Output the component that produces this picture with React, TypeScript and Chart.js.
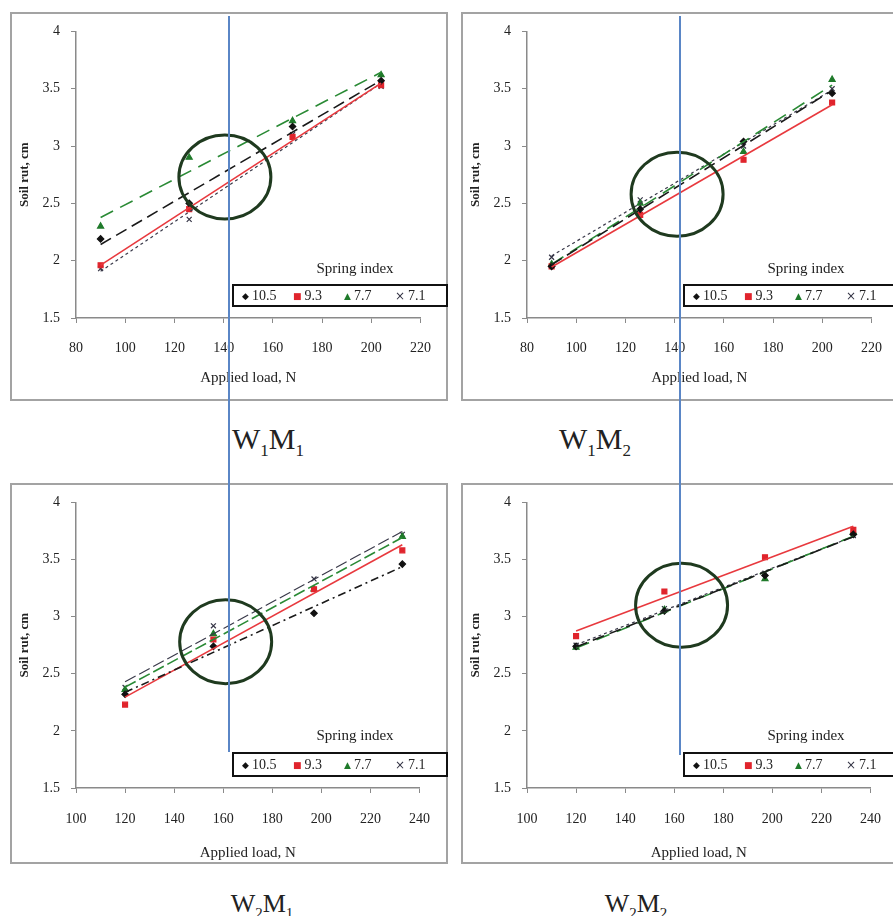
import React, { useEffect, useRef } from "react";
import { Chart, registerables } from "chart.js";
Chart.register(...registerables);

// ---------------- data ----------------
const seriesLabels = ["10.5", "9.3", "7.7", "7.1"];
const topLoads = [90, 126, 168, 204];
const bottomLoads = [120, 156, 197, 233];

const topXTicks = [80, 100, 120, 140, 160, 180, 200, 220];
const bottomXTicks = [100, 120, 140, 160, 180, 200, 220, 240];
const yTicks = [1.5, 2, 2.5, 3, 3.5, 4];

// W1M1
const w1m1_s105 = [2.19, 2.5, 3.17, 3.57];
const w1m1_s93 = [1.96, 2.45, 3.08, 3.53];
const w1m1_s77 = [2.3, 2.9, 3.22, 3.62];
const w1m1_s71 = [1.93, 2.36, 3.1, 3.52];
// W1M2
const w1m2_s105 = [1.95, 2.45, 3.04, 3.46];
const w1m2_s93 = [1.95, 2.4, 2.88, 3.38];
const w1m2_s77 = [1.97, 2.5, 2.95, 3.58];
const w1m2_s71 = [2.03, 2.53, 3.0, 3.5];
// W2M1
const w2m1_s105 = [2.32, 2.74, 3.03, 3.46];
const w2m1_s93 = [2.23, 2.8, 3.24, 3.58];
const w2m1_s77 = [2.36, 2.85, 3.24, 3.7];
const w2m1_s71 = [2.38, 2.92, 3.33, 3.72];
// W2M2
const w2m2_s105 = [2.74, 3.05, 3.36, 3.72];
const w2m2_s93 = [2.83, 3.22, 3.52, 3.76];
const w2m2_s77 = [2.73, 3.06, 3.33, 3.74];
const w2m2_s71 = [2.75, 3.07, 3.38, 3.71];

// highlighted region (data coordinates) per panel
const circleW1M1 = [140.5, 2.73];
const circleW1M2 = [141, 2.58];
const circleW2M1 = [161, 2.78];
const circleW2M2 = [163, 3.1];

// ---------------- styles ----------------
const FONT = "'Liberation Serif', 'Times New Roman', serif";
const markerColors = ["#111111", "#e0242c", "#1f7a2a", "#333344"];
const markerStyles = ["rectRot", "rect", "triangle", "crossRot"];
const markerChars = ["\u25C6", "\u25A0", "\u25B2", "\u00D7"];
const lineColors = ["#1a1a1a", "#e8393e", "#2a8a35", "#3a3a4a"];
const lineDashes: number[][] = [[12, 6], [], [14, 8], [3, 3]];

function fitLine(xs: number[], ys: number[]) {
  const n = xs.length;
  const mx = xs.reduce((a, b) => a + b, 0) / n;
  const my = ys.reduce((a, b) => a + b, 0) / n;
  let sxy = 0, sxx = 0;
  for (let i = 0; i < n; i++) {
    sxy += (xs[i] - mx) * (ys[i] - my);
    sxx += (xs[i] - mx) * (xs[i] - mx);
  }
  const b = sxy / sxx;
  const a = my - b * mx;
  return [
    { x: xs[0], y: a + b * xs[0] },
    { x: xs[n - 1], y: a + b * xs[n - 1] },
  ];
}

const circlePlugin = {
  id: "circleMark",
  afterDatasetsDraw(chart: any, _args: any, opts: any) {
    const ctx = chart.ctx;
    const px = chart.scales.x.getPixelForValue(opts.cx);
    const py = chart.scales.y.getPixelForValue(opts.cy);
    ctx.save();
    ctx.beginPath();
    ctx.ellipse(px, py, opts.rx, opts.ry, 0, 0, Math.PI * 2);
    ctx.lineWidth = 3;
    ctx.strokeStyle = "#1f3a1f";
    ctx.stroke();
    ctx.restore();
  },
};

type PanelProps = {
  left: number;
  top: number;
  width: number;
  height: number;
  loads: number[];
  series: number[][];
  xTicks: number[];
  circle: number[];
  padTop: number;
  xAxisH: number;
  tickPad: number;
  titlePadBottom: number;
  dashOverride?: number[][];
  legendTop: number;
  legendH: number;
  springTop: number;
};

function Panel(p: PanelProps) {
  const ref = useRef<HTMLCanvasElement>(null);
  useEffect(() => {
    if (!ref.current) return;
    const datasets: any[] = [];
    p.series.forEach((ys, i) => {
      const dash = p.dashOverride && p.dashOverride[i] ? p.dashOverride[i] : lineDashes[i];
      datasets.push({
        label: seriesLabels[i] + " trend",
        data: fitLine(p.loads, ys),
        showLine: true,
        borderColor: lineColors[i],
        borderWidth: i === 3 ? 1.2 : 1.6,
        borderDash: dash,
        pointRadius: 0,
        fill: false,
      });
    });
    p.series.forEach((ys, i) => {
      datasets.push({
        label: seriesLabels[i],
        data: p.loads.map((x, j) => ({ x, y: ys[j] })),
        showLine: false,
        pointStyle: markerStyles[i],
        pointRadius: i === 0 ? 3.2 : 3.5,
        backgroundColor: markerColors[i],
        borderColor: markerColors[i],
        borderWidth: 1.2,
      });
    });
    const axisColor = "#8a8a8a";
    const chart = new Chart(ref.current, {
      type: "scatter",
      data: { datasets },
      plugins: [circlePlugin],
      options: {
        animation: false,
        responsive: false,
        maintainAspectRatio: false,
        devicePixelRatio: 1,
        layout: { padding: { left: 0, right: 18, top: p.padTop, bottom: 0 } },
        plugins: {
          legend: { display: false },
          tooltip: { enabled: false },
          circleMark: { cx: p.circle[0], cy: p.circle[1], rx: 46, ry: 42 },
        } as any,
        scales: {
          x: {
            type: "linear",
            min: p.xTicks[0],
            max: p.xTicks[p.xTicks.length - 1],
            afterBuildTicks: (axis: any) => {
              axis.ticks = p.xTicks.map((v) => ({ value: v }));
            },
            afterFit: (s: any) => {
              s.height = p.xAxisH;
            },
            grid: {
              display: true,
              drawOnChartArea: false,
              drawTicks: true,
              tickLength: 5,
              color: axisColor,
              tickColor: axisColor,
            },
            border: { display: true, color: axisColor, width: 1.5 },
            ticks: {
              padding: p.tickPad,
              autoSkip: false,
              maxRotation: 0,
              color: "#222",
              font: { family: FONT, size: 14 },
              callback: (v: any) => String(v),
            },
            title: {
              display: true,
              text: "Applied load, N",
              color: "#222",
              font: { family: FONT, size: 15 },
              padding: { top: 0, bottom: p.titlePadBottom },
            },
          },
          y: {
            type: "linear",
            min: yTicks[0],
            max: yTicks[yTicks.length - 1],
            afterBuildTicks: (axis: any) => {
              axis.ticks = yTicks.map((v) => ({ value: v }));
            },
            afterFit: (s: any) => {
              s.width = 66;
            },
            grid: {
              display: true,
              drawOnChartArea: false,
              drawTicks: true,
              tickLength: 5,
              color: axisColor,
              tickColor: axisColor,
            },
            border: { display: true, color: axisColor, width: 1.5 },
            ticks: {
              padding: 11,
              color: "#222",
              font: { family: FONT, size: 14 },
              callback: (v: any) => String(v),
            },
            title: {
              display: true,
              text: "Soil rut, cm",
              color: "#222",
              font: { family: FONT, size: 13, weight: "bold" },
              padding: { top: 7, bottom: 0 },
            },
          },
        },
      } as any,
    });
    return () => chart.destroy();
  }, []);

  return (
    <div
      style={{
        position: "absolute",
        left: p.left,
        top: p.top,
        width: p.width,
        height: p.height,
        overflow: "hidden",
        background: "#fff",
      }}
    >
      <canvas
        ref={ref}
        width={p.width}
        height={p.height}
        style={{ position: "absolute", left: 0, top: 0, display: "block" }}
      />
      <div
        style={{
          position: "absolute",
          left: 0,
          top: 0,
          width: p.width,
          height: p.height,
          border: "2px solid #a3a3a3",
          boxSizing: "border-box",
          pointerEvents: "none",
        }}
      />
      <div
        style={{
          position: "absolute",
          left: 285,
          top: p.springTop,
          width: 120,
          textAlign: "center",
          fontSize: 15,
          lineHeight: "18px",
          color: "#222",
          whiteSpace: "nowrap",
        }}
      >
        Spring index
      </div>
      <div
        style={{
          position: "absolute",
          left: 222,
          top: p.legendTop,
          width: 216,
          height: p.legendH,
          border: "2px solid #111",
          boxSizing: "border-box",
          background: "#fff",
          display: "flex",
          alignItems: "center",
          paddingLeft: 8,
          fontSize: 14,
          color: "#222",
          whiteSpace: "nowrap",
        }}
      >
        {seriesLabels.map((l, i) => (
          <span key={l} style={{ width: 51, display: "inline-flex", alignItems: "center" }}>
            <span
              style={{
                color: markerColors[i],
                fontSize: i === 3 ? 12 : 9,
                marginRight: 3,
                fontFamily: "DejaVu Sans",
              }}
            >
              {markerChars[i]}
            </span>
            {l}
          </span>
        ))}
      </div>
    </div>
  );
}

function PanelTitle({ cx, cy, fs, w, m }: { cx: number; cy: number; fs: number; w: string; m: string }) {
  const lh = fs + 4;
  return (
    <div
      style={{
        position: "absolute",
        left: cx - 70,
        top: cy - 2 - 0.56 * fs,
        width: 140,
        textAlign: "center",
        fontSize: fs,
        lineHeight: lh + "px",
        color: "#222",
        whiteSpace: "nowrap",
      }}
    >
      W<sub style={{ fontSize: Math.round(fs * 0.56), lineHeight: 0 }}>{w}</sub>M
      <sub style={{ fontSize: Math.round(fs * 0.56), lineHeight: 0 }}>{m}</sub>
    </div>
  );
}

export default function App() {
  return (
    <div
      style={{
        position: "absolute",
        left: 0,
        top: 0,
        width: 893,
        height: 916,
        overflow: "hidden",
        background: "#fff",
        fontFamily: FONT,
      }}
    >
      <Panel
        left={10}
        top={12}
        width={438}
        height={389}
        loads={topLoads}
        series={[w1m1_s105, w1m1_s93, w1m1_s77, w1m1_s71]}
        xTicks={topXTicks}
        circle={circleW1M1}
        padTop={13}
        xAxisH={83}
        tickPad={17}
        titlePadBottom={14}
        legendTop={272}
        legendH={23}
        springTop={247}
      />
      <Panel
        left={461}
        top={12}
        width={438}
        height={389}
        loads={topLoads}
        series={[w1m2_s105, w1m2_s93, w1m2_s77, w1m2_s71]}
        xTicks={topXTicks}
        circle={circleW1M2}
        padTop={13}
        xAxisH={83}
        tickPad={17}
        titlePadBottom={14}
        legendTop={272}
        legendH={23}
        springTop={247}
      />
      <Panel
        left={10}
        top={483}
        width={438}
        height={381}
        loads={bottomLoads}
        series={[w2m1_s105, w2m1_s93, w2m1_s77, w2m1_s71]}
        xTicks={bottomXTicks}
        circle={circleW2M1}
        padTop={9}
        xAxisH={76}
        tickPad={18}
        titlePadBottom={2}
        dashOverride={[[8, 4, 2, 4], [], [12, 4], [12, 4]]}
        legendTop={269}
        legendH={25}
        springTop={243}
      />
      <Panel
        left={461}
        top={483}
        width={438}
        height={381}
        loads={bottomLoads}
        series={[w2m2_s105, w2m2_s93, w2m2_s77, w2m2_s71]}
        xTicks={bottomXTicks}
        circle={circleW2M2}
        padTop={9}
        xAxisH={76}
        tickPad={18}
        titlePadBottom={2}
        legendTop={269}
        legendH={25}
        springTop={243}
      />
      <PanelTitle cx={268} cy={441} fs={30} w="1" m="1" />
      <PanelTitle cx={595} cy={441} fs={30} w="1" m="2" />
      <PanelTitle cx={262} cy={906} fs={26} w="2" m="1" />
      <PanelTitle cx={636} cy={906} fs={26} w="2" m="2" />
      <div style={{ position: "absolute", left: 228, top: 16, width: 1.5, height: 736, background: "#5a86c6" }} />
      <div style={{ position: "absolute", left: 679, top: 16, width: 1.5, height: 739, background: "#5a86c6" }} />
    </div>
  );
}
